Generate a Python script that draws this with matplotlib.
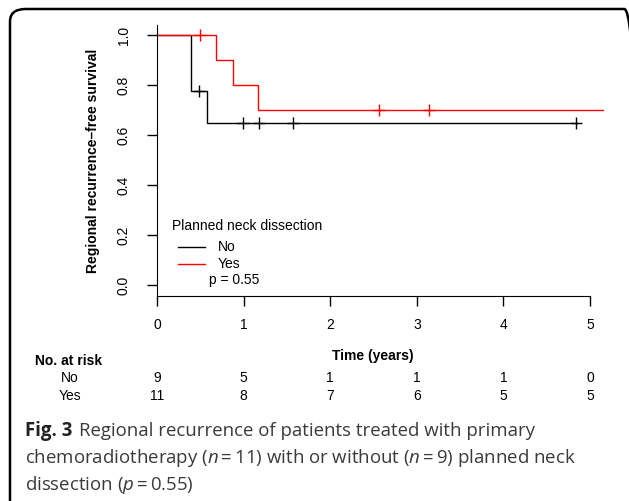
import matplotlib
matplotlib.use('Agg')
import matplotlib.pyplot as plt
from matplotlib.patches import FancyBboxPatch
from matplotlib.lines import Line2D

plt.rcParams['font.family'] = ['Liberation Sans', 'DejaVu Sans']
plt.rcParams['mathtext.fontset'] = 'custom'
plt.rcParams['mathtext.rm'] = 'Open Sans'
plt.rcParams['mathtext.it'] = 'Open Sans:italic'
plt.rcParams['mathtext.bf'] = 'Open Sans:bold'

# Kaplan-Meier steps (time in years, survival)
no_t = [0, 0.39, 0.58, 4.85]
no_s = [1.0, 0.778, 0.648, 0.648]
no_cens_t = [0.49, 0.99, 1.18, 1.57, 4.84]
no_cens_s = [0.778, 0.648, 0.648, 0.648, 0.648]

yes_t = [0, 0.68, 0.88, 1.17, 5.15]
yes_s = [1.0, 0.9, 0.8, 0.7, 0.7]
yes_cens_t = [0.5, 2.56, 3.14]
yes_cens_s = [1.0, 0.7, 0.7]

risk_times = [0, 1, 2, 3, 4, 5]
risk_no = [9, 5, 1, 1, 1, 0]
risk_yes = [11, 8, 7, 6, 5, 5]

W, H = 629, 501
fig = plt.figure(figsize=(W / 100, H / 100), dpi=100)


def fx(x):
    return x / W


def fy(y):
    return 1 - y / H


# axes placed in pixel terms
ax = fig.add_axes([fx(157), fy(296), fx(616) - fx(157), fy(25) - fy(296)])
ax.set_xlim(0, 5.3)
ax.set_ylim(-0.044, 1.04)

ax.step(no_t, no_s, where='post', color='black', lw=1)
ax.step(yes_t, yes_s, where='post', color='red', lw=1)
ax.plot(no_cens_t, no_cens_s, ls='none', marker='+', ms=9, mew=1, color='black')
ax.plot(yes_cens_t, yes_cens_s, ls='none', marker='+', ms=9, mew=1, color='red')

for s in ['top', 'right']:
    ax.spines[s].set_visible(False)
ax.spines['bottom'].set_bounds(0, 5)

ax.set_xticks(risk_times)
ax.set_yticks([0, 0.2, 0.4, 0.6, 0.8, 1.0])
ax.set_yticklabels(['0.0', '0.2', '0.4', '0.6', '0.8', '1.0'], rotation=90, va='center')
ax.tick_params(axis='both', direction='out', length=7, width=1, labelsize=10)
ax.tick_params(axis='x', pad=9)
ax.tick_params(axis='y', pad=12)

fig.text(fx(93), fy(161), 'Regional recurrence\u2013free survival', rotation=90,
         ha='center', va='center', fontsize=10, fontweight='bold')

# legend
fig.text(fx(172), fy(226), 'Planned neck dissection', ha='left', va='center', fontsize=10)
fig.add_artist(Line2D([fx(178), fx(205)], [fy(247), fy(247)], color='black', lw=1))
fig.add_artist(Line2D([fx(178), fx(205)], [fy(264), fy(264)], color='red', lw=1))
fig.text(fx(218), fy(247), 'No', ha='left', va='center', fontsize=10)
fig.text(fx(218), fy(264), 'Yes', ha='left', va='center', fontsize=10)
fig.text(fx(209), fy(280), 'p = 0.55', ha='left', va='center', fontsize=10)

# risk table
fig.text(fx(373), fy(356), 'Time (years)', ha='center', va='center', fontsize=10, fontweight='bold')
fig.text(fx(35), fy(361), 'No. at risk', ha='left', va='center', fontsize=10, fontweight='bold')
fig.text(fx(70), fy(378), 'No', ha='center', va='center', fontsize=10)
fig.text(fx(70), fy(396), 'Yes', ha='center', va='center', fontsize=10)
for t, a, b in zip(risk_times, risk_no, risk_yes):
    xp = ax.transData.transform((t, 0))[0] / W
    fig.text(xp, fy(378), str(a), ha='center', va='center', fontsize=10)
    fig.text(xp, fy(396), str(b), ha='center', va='center', fontsize=10)

# caption
cap = dict(ha='left', va='baseline', fontsize=13.4, color='#3a3a3a', family=['Open Sans', 'DejaVu Sans'])
fig.text(fx(25), fy(436), 'Fig. 3', fontweight='bold', **{**cap, 'color': '#222222'})
fig.text(fx(79), fy(436), 'Regional recurrence of patients treated with primary', **cap)
fig.text(fx(25), fy(463), 'chemoradiotherapy ($\\it{n}$\u2009=\u200911) with or without ($\\it{n}$\u2009=\u20099) planned neck', **cap)
fig.text(fx(25), fy(490), 'dissection ($\\it{p}$\u2009=\u20090.55)', **cap)

# rounded frame around the figure
frame = FancyBboxPatch((fx(10), fy(520)), fx(640) - fx(10), fy(9) - fy(520),
                       boxstyle='round,pad=0,rounding_size=0.025', transform=fig.transFigure,
                       fill=False, lw=1.8, ec='black', clip_on=False)
fig.add_artist(frame)

fig.savefig('out.png', dpi=100)
